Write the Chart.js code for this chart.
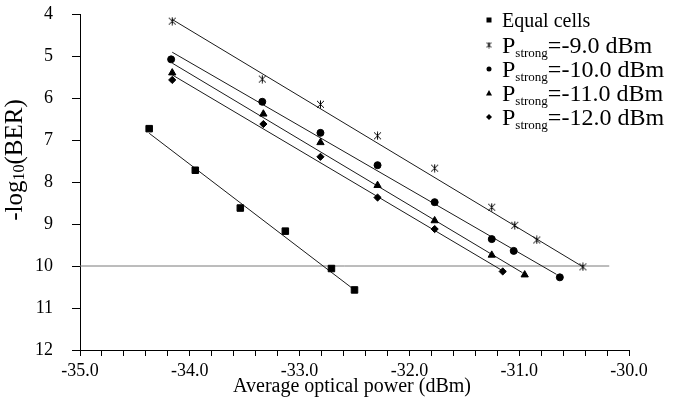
<!DOCTYPE html>
<html><head><meta charset="utf-8">
<script src="https://cdn.jsdelivr.net/npm/chart.js@4"></script>
<style>html,body{margin:0;padding:0;background:#fff}#wrap{width:676px;height:415px;position:relative}</style>
</head><body><div id="wrap"><canvas id="c" width="676" height="415"></canvas></div>
<script>
// ---- data ----
const legendLabels = ['Equal cells', '-9.0 dBm', '-10.0 dBm', '-11.0 dBm', '-12.0 dBm'];
const yTickLabels = [4, 5, 6, 7, 8, 9, 10, 11, 12];
const xTickLabels = [-35, -34, -33, -32, -31, -30];

const equalX = [-34.37, -33.95, -33.54, -33.13, -32.71, -32.50];
const equalY = [6.73, 7.72, 8.62, 9.17, 10.06, 10.57];
const p9X = [-34.16, -33.34, -32.81, -32.29, -31.77, -31.25, -31.04, -30.84, -30.42];
const p9Y = [4.17, 5.55, 6.15, 6.90, 7.67, 8.60, 9.03, 9.38, 10.02];
const p10X = [-34.17, -33.34, -32.81, -32.29, -31.77, -31.25, -31.05, -30.63];
const p10Y = [5.08, 6.09, 6.83, 7.60, 8.48, 9.36, 9.64, 10.27];
const p11X = [-34.16, -33.33, -32.81, -32.29, -31.77, -31.25, -30.95];
const p11Y = [5.40, 6.38, 7.06, 8.08, 8.92, 9.74, 10.21];
const p12X = [-34.16, -33.33, -32.81, -32.29, -31.77, -31.15];
const p12Y = [5.57, 6.62, 7.40, 8.37, 9.12, 10.13];

// fitted trend lines (end points)
const equalFitX = [-34.37, -32.50], equalFitY = [6.84, 10.57];
const p9FitX = [-34.16, -30.42], p9FitY = [4.13, 10.02];
const p10FitX = [-34.16, -30.66], p10FitY = [4.91, 10.20];
const p11FitX = [-34.16, -30.97], p11FitY = [5.17, 10.16];
const p12FitX = [-34.16, -31.14], p12FitY = [5.45, 10.13];
const refX = [-35, -30.18], refY = [10, 10];

// ---- helpers ----
const pts = (xs, ys) => xs.map((x, i) => ({x: x, y: ys[i]}));
const FONT = "'Liberation Serif','Times New Roman',serif";

function starCanvas(s) {
  const c = document.createElement('canvas');
  c.width = s; c.height = s;
  const g = c.getContext('2d');
  g.strokeStyle = '#000'; g.lineWidth = 1;
  const m = s / 2;
  g.beginPath();
  g.moveTo(m, 0.5); g.lineTo(m, s - 0.5);
  g.moveTo(1, 1); g.lineTo(s - 1, s - 1);
  g.moveTo(s - 1, 1); g.lineTo(1, s - 1);
  g.stroke();
  return c;
}
const starBig = starCanvas(9);
const starSmall = starCanvas(7);

function scatter(data, style, r) {
  return {type: 'scatter', data: data, pointStyle: style, pointRadius: r, pointHoverRadius: r,
    backgroundColor: '#000', borderColor: '#000', borderWidth: 1, showLine: false};
}
function fit(data, color) {
  return {type: 'line', data: data, showLine: true, pointRadius: 0, borderColor: color || '#1a1a1a',
    borderWidth: 1, fill: false, tension: 0};
}

const overlay = {
  id: 'overlay',
  afterDraw(chart) {
    const ctx = chart.ctx;
    ctx.save();
    ctx.fillStyle = '#000';
    ctx.textBaseline = 'alphabetic';
    // y title: -log10(BER)
    ctx.save();
    ctx.translate(22, 160);
    ctx.rotate(-Math.PI / 2);
    const f1 = '25px ' + FONT, f2 = '16px ' + FONT;
    ctx.font = f1; const w1 = ctx.measureText('-log').width; const w3 = ctx.measureText('(BER)').width;
    ctx.font = f2; const w2 = ctx.measureText('10').width;
    let x0 = -(w1 + w2 + w3) / 2;
    ctx.font = f1; ctx.textAlign = 'left'; ctx.fillText('-log', x0, 0);
    ctx.font = f2; ctx.fillText('10', x0 + w1, 2);
    ctx.font = f1; ctx.fillText('(BER)', x0 + w1 + w2, 0);
    ctx.restore();
    // x title
    ctx.font = '20px ' + FONT; ctx.textAlign = 'center';
    ctx.fillText('Average optical power (dBm)', 352, 392);
    // legend
    const mx = 489, tx = 502;
    const rows = [20, 45, 69, 93, 117];
    ctx.textAlign = 'left';
    ctx.fillRect(mx - 2.5, rows[0] - 2.5, 5, 5);
    ctx.font = '20px ' + FONT;
    ctx.fillText(legendLabels[0], tx, rows[0] + 7);
    ctx.drawImage(starSmall, mx - 3.5, rows[1] - 3.5);
    ctx.beginPath(); ctx.arc(mx, rows[2], 2.5, 0, Math.PI * 2); ctx.fill();
    ctx.beginPath(); ctx.moveTo(mx, rows[3] - 3); ctx.lineTo(mx + 3, rows[3] + 2.5); ctx.lineTo(mx - 3, rows[3] + 2.5); ctx.closePath(); ctx.fill();
    ctx.beginPath(); ctx.moveTo(mx, rows[4] - 3); ctx.lineTo(mx + 3, rows[4]); ctx.lineTo(mx, rows[4] + 3); ctx.lineTo(mx - 3, rows[4]); ctx.closePath(); ctx.fill();
    for (let i = 1; i < 5; i++) {
      const base = rows[i] + 8;
      ctx.font = '24px ' + FONT;
      ctx.fillText('P', tx, base);
      const wp = ctx.measureText('P').width;
      ctx.font = '13px ' + FONT;
      ctx.fillText('strong', tx + wp, base + 4);
      const ws = ctx.measureText('strong').width;
      ctx.font = '24px ' + FONT;
      ctx.fillText('=' + legendLabels[i], tx + wp + ws, base);
    }
    ctx.restore();
  }
};

new Chart(document.getElementById('c'), {
  data: {
    datasets: [
      scatter(pts(equalX, equalY), 'rect', 4.6),
      scatter(pts(p9X, p9Y), starBig, 4.5),
      scatter(pts(p10X, p10Y), 'circle', 3.5),
      scatter(pts(p11X, p11Y), 'triangle', 4.2),
      scatter(pts(p12X, p12Y), 'rectRot', 3.6),
      fit(pts(equalFitX, equalFitY)),
      fit(pts(p9FitX, p9FitY)),
      fit(pts(p10FitX, p10FitY)),
      fit(pts(p11FitX, p11FitY)),
      fit(pts(p12FitX, p12FitY)),
      fit(pts(refX, refY), '#7a7a7a')
    ]
  },
  options: {
    responsive: false,
    animation: false,
    layout: {padding: {top: 14, right: 47, left: 0, bottom: 0}},
    plugins: {legend: {display: false}, tooltip: {enabled: false}},
    scales: {
      x: {
        type: 'linear', position: 'bottom', min: -35, max: -30,
        afterFit(s) { s.height = 65; s.paddingLeft = 0; s.paddingRight = 0; },
        border: {display: true, color: '#000', width: 1},
        grid: {drawOnChartArea: false, drawTicks: true, tickLength: 6, color: '#000'},
        ticks: {
          stepSize: 0.2, autoSkip: false, maxRotation: 0, padding: 4, color: '#000',
          font: {family: FONT, size: 18},
          callback(v) {
            const r = Math.round(v);
            return (Math.abs(v - r) < 1e-6 && xTickLabels.includes(r)) ? r.toFixed(1) : '';
          }
        }
      },
      y: {
        type: 'linear', reverse: true, min: 4, max: 12,
        afterFit(s) { s.width = 80; s.paddingTop = 0; s.paddingBottom = 0; },
        border: {display: true, color: '#000', width: 1},
        grid: {drawOnChartArea: false, drawTicks: true, tickLength: 8, color: '#000'},
        ticks: {
          stepSize: 1, padding: 19, color: '#000',
          font: {family: FONT, size: 18},
          callback(v) { return yTickLabels.includes(v) ? String(v) : ''; }
        }
      }
    }
  },
  plugins: [overlay]
});
</script>
</body></html>
